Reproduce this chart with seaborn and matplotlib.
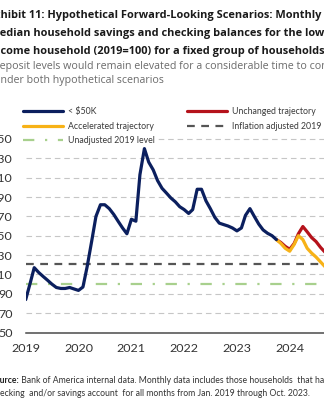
import matplotlib
matplotlib.use("Agg")
import matplotlib.pyplot as plt
import seaborn as sns
import pandas as pd
from matplotlib.lines import Line2D

# ---------------- data ----------------
start_month = "2019-01-01"
under_50k = [84, 101, 117, 112, 108, 104, 100, 96.5, 95.5, 95.5, 96.5, 95,
             93.5, 97, 118, 144, 170, 182, 182, 178, 172, 165, 158, 152,
             167, 165, 213, 240, 226, 218, 207, 199, 194, 189, 185, 180,
             177, 173, 177, 198, 198, 186, 178, 169, 163, 161.5, 160, 158,
             155, 158, 171, 178, 170, 162, 156, 152.5, 150, 146]
forecast_start = "2023-10-01"
unchanged = [146, 143, 139, 136, 142, 152, 159.5, 154, 148, 144, 138, 133, 127]
accelerated = [146, 142, 137, 134, 141, 150, 146, 137, 132, 128, 123, 118, 112]
inflation_adjusted_2019 = 121
unadjusted_2019 = 100
year_ticks = [2019, 2020, 2021, 2022, 2023, 2024, 2025]
y_ticks = [50, 70, 90, 110, 130, 150, 170, 190, 210, 230, 250]

series_labels = ["< $50K", "Accelerated trajectory", "Unadjusted 2019 level",
                 "Unchanged trajectory", "Inflation adjusted 2019 level"]

title_lines = ["Exhibit 11: Hypothetical Forward-Looking Scenarios: Monthly",
               "median household savings and checking balances for the lower-",
               "income household (2019=100) for a fixed group of households"]
subtitle_lines = ["Deposit levels would remain elevated for a considerable time to come",
                  "under both hypothetical scenarios"]
source_bold = "Source:"
source_lines = [" Bank of America internal data. Monthly data includes those households  that have a",
                "checking  and/or savings account  for all months from Jan. 2019 through Oct. 2023."]

# ---------------- style ----------------
NAVY = "#0b1f5e"
RED = "#b5121b"
GOLD = "#f7b217"
GREEN = "#a8d08d"
DGRAY = "#555555"
GRID = "#c6c6c6"

sns.set_theme(style="white")
plt.rcParams["font.family"] = ["Lato", "DejaVu Sans"]
BODY = ["Lato", "DejaVu Sans"]
HEAD = ["Open Sans", "DejaVu Sans"]

W, H = 324, 400
fig = plt.figure(figsize=(W / 100, H / 100), dpi=100)
renderer = fig.canvas.get_renderer()

def px_w(s, **kw):
    t = fig.text(0, 0, s, **kw)
    w = t.get_window_extent(renderer).width
    t.remove()
    return w

def fit_size(s, target_px, base=10, **kw):
    return base * target_px / px_w(s, size=base, **kw)

def cut_text(prefix, rest, y_px, **kw):
    w = px_w(prefix, **kw)
    fig.text(-w / W, 1 - y_px / H, prefix + rest, ha="left", va="baseline", **kw)
    return -w

# axes placement (in pixels)
ax_left, ax_right = 25.7, 374.0
ax_top, ax_bottom = 137.0, 332.5
ax = fig.add_axes([ax_left / W, 1 - ax_bottom / H,
                   (ax_right - ax_left) / W, (ax_bottom - ax_top) / H])

px_per_day = (289.7 - 25.7) / (pd.Timestamp("2024-01-01") - pd.Timestamp("2019-01-01")).days
x0 = pd.Timestamp(start_month)
x1 = x0 + pd.Timedelta(days=(ax_right - ax_left) / px_per_day)

hist = pd.DataFrame({"date": pd.date_range(start_month, periods=len(under_50k), freq="MS"),
                     "value": under_50k})
fc_dates = pd.date_range(forecast_start, periods=len(unchanged), freq="MS")
fc_unch = pd.DataFrame({"date": fc_dates, "value": unchanged})
fc_acc = pd.DataFrame({"date": fc_dates, "value": accelerated})

green_ls = (0, (5.1, 4.8, 1.0, 4.8))
gray_ls = (0, (3.5, 2.9))
ax.axhline(inflation_adjusted_2019, color=DGRAY, lw=1.6, linestyle=gray_ls, zorder=2)
ax.axhline(unadjusted_2019, color=GREEN, lw=1.6, linestyle=green_ls, zorder=2)

sns.lineplot(data=fc_unch, x="date", y="value", ax=ax, color=RED, lw=2.3, zorder=3)
sns.lineplot(data=fc_acc, x="date", y="value", ax=ax, color=GOLD, lw=2.3, zorder=3.5)
sns.lineplot(data=hist, x="date", y="value", ax=ax, color=NAVY, lw=2.3, zorder=6)

ax.set_xlim(x0, x1)
ax.set_ylim(50, 252)
ax.set_xticks([pd.Timestamp(f"{y}-01-01") for y in year_ticks])
ax.set_xticklabels([str(y) for y in year_ticks])
ax.set_yticks(y_ticks)
ax.set_yticklabels([str(v) for v in y_ticks])
ax.set_xlabel("")
ax.set_ylabel("")

ax.yaxis.grid(True, linestyle=(0, (5, 3.5)), color=GRID, lw=0.8, zorder=0)
ax.xaxis.grid(False)
for s in ["left", "top", "right"]:
    ax.spines[s].set_visible(False)
ax.spines["bottom"].set_color("#4a4a4a")
ax.spines["bottom"].set_linewidth(1.1)
ax.set_facecolor("none")

tick_size = fit_size("2019", 29, family=BODY)
ax.tick_params(axis="x", direction="in", length=4, width=1.1, color="#4a4a4a",
               pad=7.5, labelsize=tick_size, labelcolor="#333333")
ax.tick_params(axis="y", length=0, pad=9.5, labelsize=tick_size, labelcolor="#333333")

# legends
leg_size = fit_size("Accelerated trajectory", 86, family=BODY)
fs_px = leg_size * 100 / 72
leg_font = {"family": BODY, "size": leg_size}
h_navy = Line2D([], [], color=NAVY, lw=2.3)
h_acc = Line2D([], [], color=GOLD, lw=2.3)
h_unadj = Line2D([], [], color=GREEN, lw=1.6, linestyle=green_ls)
h_unch = Line2D([], [], color=RED, lw=2.3)
h_infl = Line2D([], [], color=DGRAY, lw=1.6, linestyle=gray_ls)

common = dict(loc="upper left", bbox_transform=fig.transFigure, frameon=True,
              fancybox=False, edgecolor="none", facecolor="white", framealpha=1,
              handlelength=40 / fs_px, handletextpad=5 / fs_px, labelspacing=0.62,
              borderpad=0.2, borderaxespad=0, prop=leg_font, labelcolor="#3a3a3a")
leg1 = ax.legend(handles=[h_navy, h_acc, h_unadj], labels=series_labels[:3],
                 bbox_to_anchor=(21 / W, 1 - 105.5 / H), **common)
leg1.set_zorder(4)
ax.add_artist(leg1)
leg2 = ax.legend(handles=[h_unch, h_infl], labels=series_labels[3:],
                 bbox_to_anchor=(185 / W, 1 - 105.5 / H), **common)
leg2.set_zorder(4)

# titles
title_size = fit_size(title_lines[0][2:], 322, family=HEAD, weight="bold")
tkw = dict(family=HEAD, weight="bold", size=title_size, color="#1a1a1a")
cut_text("Ex", title_lines[0][2:], 18.3, **tkw)
cut_text("m", title_lines[1][1:], 36.0, **tkw)
cut_text("in", title_lines[2][2:], 54.0, **tkw)
sub_size = fit_size("eposit levels would remain elevated for a considerable time to co", 322, family=HEAD)
skw = dict(family=HEAD, size=sub_size, color="#6b6b6b")
cut_text("D", subtitle_lines[0][1:], 69.0, **skw)
cut_text("u", subtitle_lines[1][1:], 83.3, **skw)

# source
src_size = fit_size("ecking  and/or savings account  for all months from Jan. 2019 through Oct. 2023.", 309, family=BODY)
srckw = dict(family=BODY, size=src_size, color="#333333")
bkw = dict(family=BODY, size=src_size, color="#222222", weight="bold")
xs = -px_w("So", **bkw)
fig.text(xs / W, 1 - 383 / H, source_bold, ha="left", va="baseline", **bkw)
xs2 = xs + px_w(source_bold, **bkw)
fig.text(xs2 / W, 1 - 383 / H, source_lines[0], ha="left", va="baseline", **srckw)
cut_text("ch", source_lines[1][2:], 396.5, **srckw)

fig.savefig("out.png", dpi=100)
